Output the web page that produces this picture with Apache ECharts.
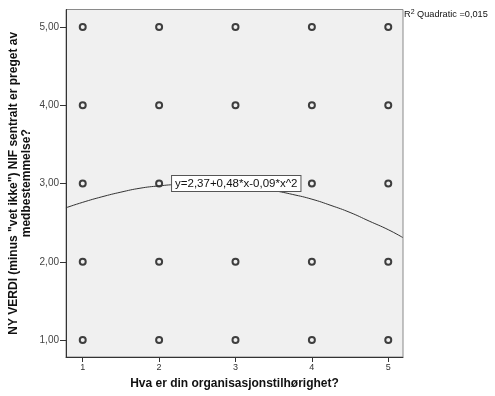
<!DOCTYPE html>
<html><head><meta charset="utf-8">
<script src="https://cdn.jsdelivr.net/npm/echarts@6/dist/echarts.min.js"></script>
<style>html,body{margin:0;padding:0;background:#fff}#c{width:495px;height:396px}</style>
</head><body><div id="c"></div>
<script>
const xCategories = [1, 2, 3, 4, 5];
const yLevels = [1, 2, 3, 4, 5];
const xTickLabels = ['1', '2', '3', '4', '5'];
const yTickLabels = ['1,00', '2,00', '3,00', '4,00', '5,00'];
// observed responses (every combination occurs)
const pointsX = [1,2,3,4,5, 1,2,3,4,5, 1,2,3,4,5, 1,2,3,4,5, 1,2,3,4,5];
const pointsY = [1,1,1,1,1, 2,2,2,2,2, 3,3,3,3,3, 4,4,4,4,4, 5,5,5,5,5];
// fitted quadratic curve
const curveX = [0.78, 1.0, 1.25, 1.5, 1.75, 2.0, 2.25, 2.5, 2.75, 3.0, 3.25, 3.5, 3.75, 4.0, 4.25, 4.5, 4.75, 5.0, 5.19];
const curveY = [2.69, 2.76, 2.83, 2.89, 2.94, 2.97, 2.99, 3.00, 2.99, 2.97, 2.95, 2.91, 2.86, 2.80, 2.72, 2.63, 2.52, 2.41, 2.31];
const equationText = 'y=2,37+0,48*x-0,09*x^2';
const equationAt = [3.01, 3.0];
const r2Text = '0,015';

const chart = echarts.init(document.getElementById('c'));
const FONT = 'Liberation Sans';
chart.setOption({
  animation: false,
  textStyle: { fontFamily: FONT },
  grid: { left: 66, right: 92, top: 9.5, bottom: 39, containLabel: false, outerBoundsMode: 'none',
    show: true, backgroundColor: '#f0f0f0', borderColor: '#8a8a8a', borderWidth: 1 },
  xAxis: {
    type: 'value', min: 0.781, max: 5.193,
    name: 'Hva er din organisasjonstilhørighet?', nameLocation: 'middle', nameGap: 21, nameMoveOverlap: false,
    nameTextStyle: { fontFamily: FONT, fontWeight: 'bold', fontSize: 12, color: '#111' },
    axisLine: { show: true, onZero: false, lineStyle: { color: '#333', width: 1 } },
    axisTick: { show: true, length: 5, customValues: xCategories, lineStyle: { color: '#333' } },
    axisLabel: { customValues: xCategories, formatter: v => xTickLabels[xCategories.indexOf(v)], fontSize: 9, color: '#333', margin: 6 },
    splitLine: { show: false }
  },
  yAxis: {
    type: 'value', min: 0.783, max: 5.224,
    name: 'NY VERDI (minus "vet ikke") NIF sentralt er preget av\nmedbestemmelse?', nameLocation: 'middle', nameGap: 33, nameMoveOverlap: false,
    nameTextStyle: { fontFamily: FONT, fontWeight: 'bold', fontSize: 12, color: '#111', lineHeight: 13 },
    axisLine: { show: true, onZero: false, lineStyle: { color: '#333', width: 1 } },
    axisTick: { show: true, length: 6, customValues: yLevels, lineStyle: { color: '#333' } },
    axisLabel: { customValues: yLevels, formatter: v => yTickLabels[yLevels.indexOf(v)], fontSize: 10, color: '#444', margin: 7 },
    splitLine: { show: false }
  },
  series: [
    {
      type: 'line', smooth: true, showSymbol: false, silent: true,
      data: curveX.map((x, i) => [x, curveY[i]]),
      lineStyle: { color: '#333', width: 1 },
      markPoint: {
        symbol: 'rect', symbolSize: 1, itemStyle: { color: 'rgba(0,0,0,0)' },
        data: [{ coord: equationAt, value: equationText }],
        label: { show: true, position: 'inside', formatter: equationText, fontFamily: FONT, fontSize: 11.5, color: '#111',
          backgroundColor: '#fff', borderColor: '#555', borderWidth: 1, padding: [2, 3, 1, 3] }
      }
    },
    {
      type: 'scatter', symbol: 'circle', symbolSize: 6,
      data: pointsX.map((x, i) => [x, pointsY[i]]),
      itemStyle: { color: 'rgba(0,0,0,0)', borderColor: '#111', borderWidth: 2 }
    }
  ],
  graphic: [{
    type: 'text', left: 404, top: 9,
    style: { text: '{r|R}{s|2}{t| Quadratic =' + r2Text + '}', rich: {
      r: { fontSize: 9.2, fontFamily: FONT, fill: '#111' },
      s: { fontSize: 7, fontFamily: FONT, fill: '#111', verticalAlign: 'top', padding: [0,0,4,0] },
      t: { fontSize: 9.2, fontFamily: FONT, fill: '#111' } } }
  }]
});
</script></body></html>
